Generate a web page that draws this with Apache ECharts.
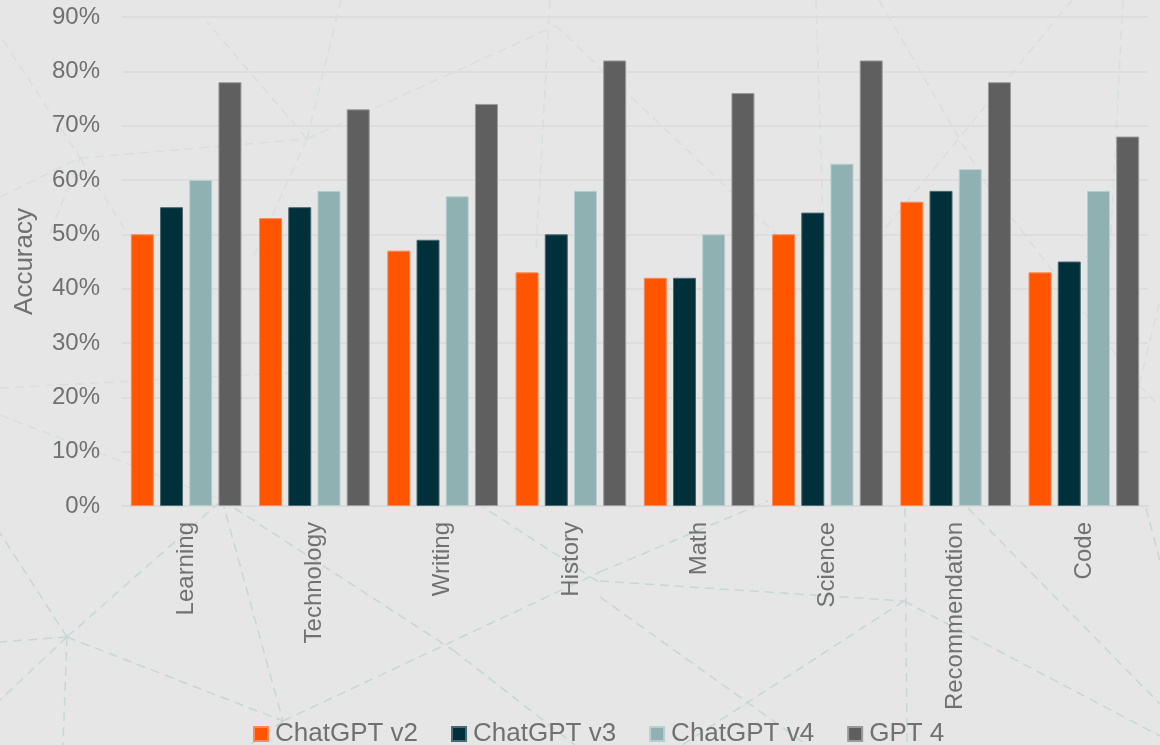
<!DOCTYPE html>
<html>
<head>
<meta charset="utf-8">
<title>Accuracy by category</title>
<script src="https://cdn.jsdelivr.net/npm/echarts@6/dist/echarts.min.js"></script>
<style>
  html, body { margin: 0; padding: 0; background: #e6e6e6; }
  #main { width: 1160px; height: 745px; }
</style>
</head>
<body>
<div id="main"></div>
<script>
// data (percent)
var categories = ['Learning', 'Technology', 'Writing', 'History', 'Math', 'Science', 'Recommendation', 'Code'];
var chatgptV2 = [50, 53, 47, 43, 42, 50, 56, 43];
var chatgptV3 = [55, 55, 49, 50, 42, 54, 58, 45];
var chatgptV4 = [60, 58, 57, 58, 50, 63, 62, 58];
var gpt4      = [78, 73, 74, 82, 76, 82, 78, 68];
var seriesNames = ['ChatGPT v2', 'ChatGPT v3', 'ChatGPT v4', 'GPT 4'];
var yTicks = [0, 10, 20, 30, 40, 50, 60, 70, 80, 90];

// decorative dashed network behind the chart (pure background, not data)
var backdrop = [
  [67, 637, 0, 533], [67, 637, 0, 642], [67, 637, 0, 700], [67, 637, 63, 745],
  [67, 637, 222, 500], [67, 637, 283, 721], [222, 500, 283, 721],
  [222, 500, 453, 650], [453, 650, 575, 745], [283, 721, 600, 572],
  [600, 572, 768, 501], [477, 503, 600, 583], [600, 581, 904, 601],
  [905, 508, 907, 745], [904, 601, 682, 745], [600, 597, 807, 745],
  [904, 601, 1160, 736], [968, 508, 1160, 704], [1146, 508, 1160, 561],
  [283, 721, 250, 745], [0, 415, 222, 500], [0, 388, 300, 372],
  [3, 40, 80, 158], [0, 197, 80, 158], [80, 158, 307, 139], [80, 158, 127, 233],
  [50, 233, 80, 158], [307, 139, 207, 22], [307, 139, 341, 0], [307, 139, 252, 260],
  [307, 139, 555, 26], [550, 0, 536, 252], [555, 25, 795, 252], [816, 0, 824, 252],
  [879, 0, 984, 181], [1072, 0, 879, 236], [1123, 0, 1110, 252],
  [1139, 385, 1160, 407], [984, 181, 1139, 385], [1139, 385, 1160, 300]
];

var colors = ['#ff5500', '#00303a', '#8fb1b1', '#5f5f5f'];
var borders = ['#ff8a55', '#4a6a70', '#b9cfcf', '#9a9a9a'];
var values = [chatgptV2, chatgptV3, chatgptV4, gpt4];

var chart = echarts.init(document.getElementById('main'));

var graphics = backdrop.map(function (s) {
  var below = Math.max(s[1], s[3]) > 500;
  return {
    type: 'line',
    z: -10,
    silent: true,
    shape: { x1: s[0], y1: s[1], x2: s[2], y2: s[3] },
    style: {
      stroke: below ? '#c6d8d5' : '#d9dfde',
      lineWidth: 1.5,
      lineDash: [9, 6]
    }
  };
});

var series = seriesNames.map(function (name, i) {
  return {
    name: name,
    type: 'bar',
    data: values[i],
    barWidth: 23,
    barGap: '27%',
    z: 5,
    itemStyle: { color: colors[i], borderColor: borders[i], borderWidth: 1 }
  };
});

var option = {
  backgroundColor: '#e6e6e6',
  animation: false,
  textStyle: { fontFamily: 'Liberation Sans, Arial, sans-serif' },
  graphic: graphics,
  grid: { left: 122, right: 12, top: 17, bottom: 239, containLabel: false, outerBoundsMode: 'none' },
  legend: {
    data: seriesNames,
    left: 248,
    top: 716,
    icon: 'rect',
    itemWidth: 14,
    itemHeight: 14,
    itemGap: 33,
    textStyle: { fontSize: 26, color: '#717171', padding: [0, 0, 0, 2] }
  },
  xAxis: {
    type: 'category',
    data: categories,
    axisLine: { show: true, lineStyle: { color: '#d9d9d9', width: 1.5 } },
    axisTick: { show: false },
    axisLabel: { rotate: 90, margin: 16, fontSize: 24, color: '#717171' }
  },
  yAxis: {
    type: 'value',
    min: 0,
    max: yTicks[yTicks.length - 1],
    interval: 10,
    name: 'Accuracy',
    nameLocation: 'middle',
    nameGap: 84,
    nameTextStyle: { fontSize: 26, color: '#717171' },
    axisLine: { show: false },
    axisTick: { show: false },
    axisLabel: { fontSize: 24, color: '#717171', margin: 22, formatter: '{value}%' },
    splitLine: { lineStyle: { color: '#dadada', width: 1.5 } }
  },
  series: series
};

chart.setOption(option);
</script>
</body>
</html>
